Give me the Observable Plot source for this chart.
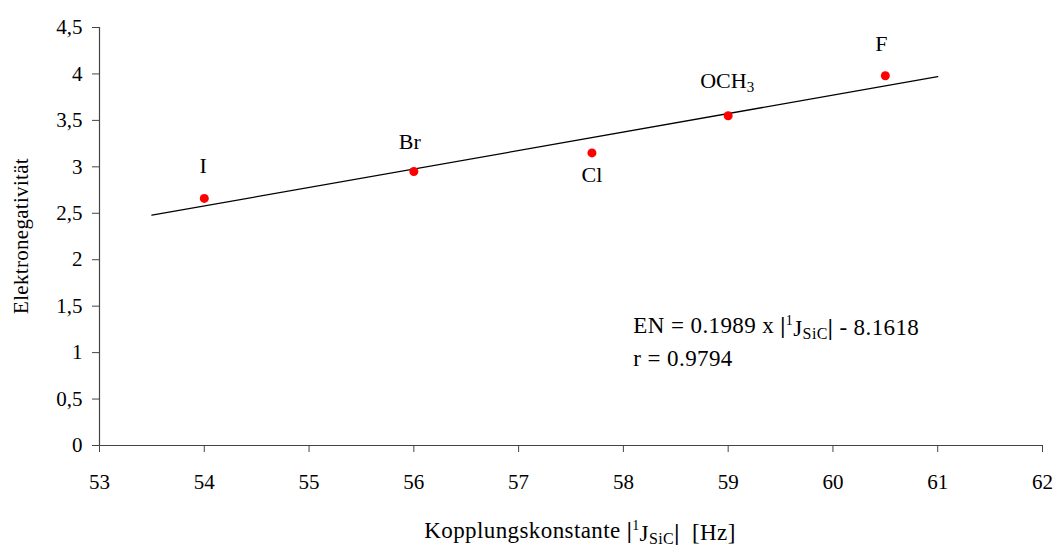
<!DOCTYPE html>
<html>
<head>
<meta charset="utf-8">
<script src="https://cdn.jsdelivr.net/npm/d3@7"></script>
<script src="https://cdn.jsdelivr.net/npm/@observablehq/plot@0.6"></script>
<style>
  html, body { margin: 0; padding: 0; background: #fff; }
  #chart { width: 1055px; height: 551px; }
  svg { font-family: "Liberation Serif", "DejaVu Serif", serif; }
</style>
</head>
<body>
<div id="chart"></div>
<script>
// Data
const substituents = ["I", "Br", "Cl", "OCH3", "F"];
const coupling = [54, 56, 57.7, 59, 60.5];
const electronegativity = [2.66, 2.95, 3.15, 3.55, 3.98];
const labelDx = [-1, -4, 0, -1, -4];
const labelDy = [-32, -30, 22, -35, -32];
const fitRange = [53.5, 61];
const slope = 0.1989, intercept = -8.1618;
const xTicks = [53, 54, 55, 56, 57, 58, 59, 60, 61, 62];
const yTicks = [0, 0.5, 1, 1.5, 2, 2.5, 3, 3.5, 4, 4.5];

const points = substituents.map((s, i) => ({name: s, x: coupling[i], y: electronegativity[i], dx: labelDx[i], dy: labelDy[i]}));
const fit = fitRange.map(x => ({x, y: slope * x + intercept}));
const fmt = d => String(d).replace(".", ",");
const FONT = '"Liberation Serif", "DejaVu Serif", serif';

const plot = Plot.plot({
  width: 1055,
  height: 551,
  marginLeft: 99,
  marginRight: 13,
  marginTop: 27,
  marginBottom: 106,
  style: {fontFamily: FONT, fontSize: "21px", color: "#000", background: "#fff"},
  x: {domain: [53, 62], ticks: xTicks, tickFormat: d => String(d), label: null},
  y: {domain: [0, 4.5], ticks: yTicks, tickFormat: fmt, label: null},
  marks: [
    Plot.axisX({ticks: xTicks, tickSize: 7, tickPadding: 22, stroke: "#444", fontSize: 21, tickFormat: d => String(d), label: null}),
    Plot.axisY({ticks: yTicks, tickSize: 7, tickPadding: 10, stroke: "#444", fontSize: 21, tickFormat: fmt, label: null}),
    Plot.ruleX([53], {stroke: "#444", strokeWidth: 1.2}),
    Plot.ruleY([0], {stroke: "#444", strokeWidth: 1.2}),
    Plot.line(fit, {x: "x", y: "y", stroke: "#000", strokeWidth: 1.3}),
    Plot.dot(points, {x: "x", y: "y", r: 4.5, fill: "#ff0000", stroke: "none"}),
    ...points.map(p => Plot.text([p], {x: "x", y: "y", text: "name", dx: p.dx, dy: p.dy, fontSize: 22, fill: "#000", className: "ptlabel"}))
  ]
});

document.getElementById("chart").appendChild(plot);
const svg = d3.select(plot);

// Subscript in OCH3
svg.selectAll(".ptlabel text").each(function() {
  const t = d3.select(this);
  if (t.text() === "OCH3") {
    t.text("");
    t.append("tspan").text("OCH");
    t.append("tspan").attr("font-size", 15).attr("dy", "0.3em").text("3");
  }
});

const xs = d3.scaleLinear().domain([53, 62]).range([99, 1042]);

function writeJ(el, fs) {
  el.append("tspan").attr("font-weight", "bold").text("|");
  el.append("tspan").attr("font-size", Math.round(fs * 0.6)).attr("dy", "-0.6em").text("1");
  el.append("tspan").attr("dy", "0.5em").attr("font-size", fs).text("J");
  el.append("tspan").attr("font-size", Math.round(fs * 0.68)).attr("dy", "0.2em").text("SiC");
  el.append("tspan").attr("font-weight", "bold").attr("dy", "-0.2em").attr("font-size", fs).text("|");
}

// Equation annotation
const eqFs = 23;
const eq = svg.append("text").attr("x", xs(58.1)).attr("y", 333).attr("font-size", eqFs)
  .attr("text-anchor", "start").attr("letter-spacing", "0.4").attr("fill", "#000");
eq.append("tspan").text("EN = 0.1989 x ");
writeJ(eq, eqFs);
eq.append("tspan").text(" - 8.1618");
svg.append("text").attr("x", xs(58.1)).attr("y", 366).attr("font-size", eqFs)
  .attr("text-anchor", "start").attr("letter-spacing", "0.4").attr("fill", "#000").text("r = 0.9794");

// X axis label
const xl = svg.append("text").attr("x", 580).attr("y", 538).attr("text-anchor", "middle")
  .attr("font-size", eqFs).attr("letter-spacing", "0.4").attr("fill", "#000");
xl.append("tspan").text("Kopplungskonstante ");
writeJ(xl, eqFs);
xl.append("tspan").text("\u00a0 [Hz]");

// Y axis label
svg.append("text").attr("transform", "translate(28,236) rotate(-90)").attr("text-anchor", "middle")
  .attr("font-size", 21).attr("letter-spacing", "0.3").attr("fill", "#000").text("Elektronegativität");
</script>
</body>
</html>
